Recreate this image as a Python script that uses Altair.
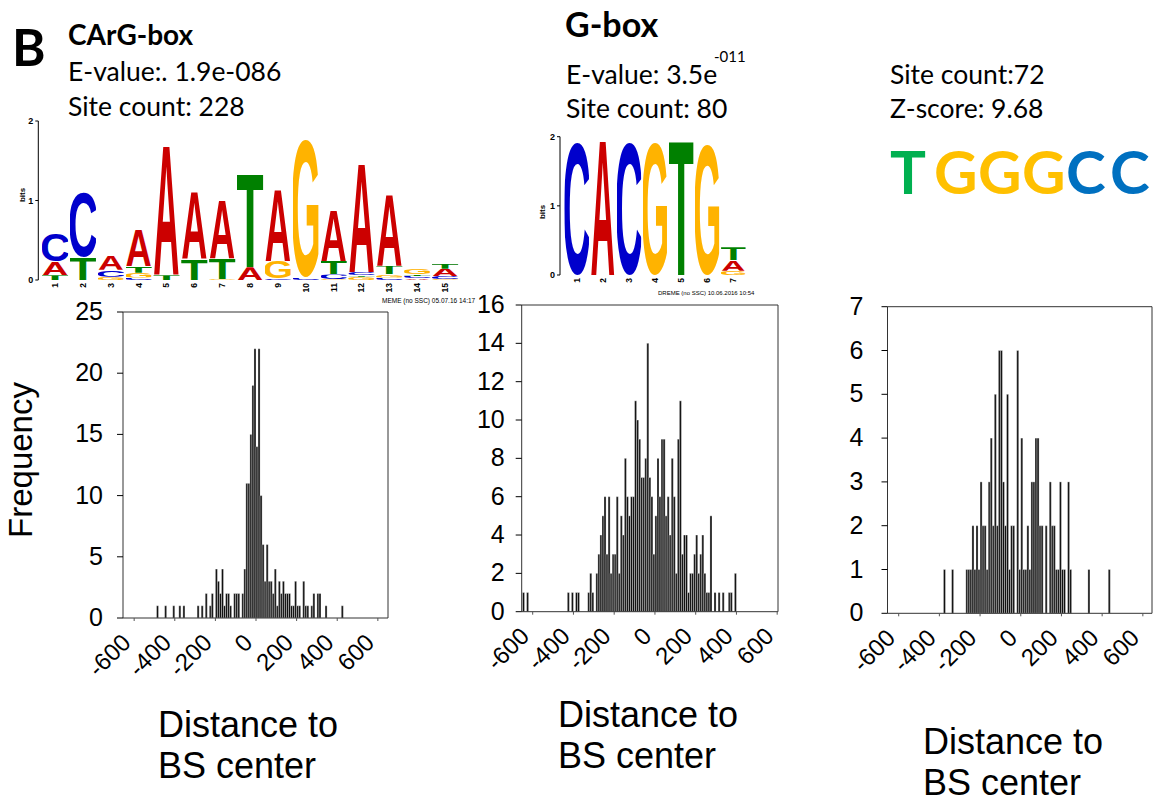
import urllib.parse

import altair as alt
import pandas as pd

W, H = 1153, 802
SANS = "Liberation Sans"
BODY = "Lato"

# ---------------------------------------------------------------------------
# Distance of motif sites to the binding-site centre, 10-bp bins:
# left edge of every non-empty bin and the number of sites in it.
# ---------------------------------------------------------------------------
carg_bin_start = [-490, -450, -410, -380, -360, -290, -270, -250, -230, -220,
                  -200, -190, -180, -170, -160, -150, -140, -130, -110, -100, -90,
                  -70, -60, -50, -40, -30, -20, -10, 0, 10,
                  20, 30, 40, 50, 60, 70, 80, 90, 100, 110, 120, 130, 140, 150, 160, 170, 180, 190,
                  200, 210, 230, 240, 250, 270, 280, 300, 310, 340, 420]
carg_freq = [1, 1, 1, 1, 1, 1, 1, 2, 1, 2,
             4, 3, 2, 4, 1, 2, 2, 1, 2, 2, 2,
             2, 4, 11, 11, 15, 19, 22, 14, 22,
             10, 6, 3, 6, 3, 3, 2, 4, 1, 3, 2, 3, 2, 2, 2, 1, 1, 3,
             1, 1, 3, 1, 1, 1, 2, 2, 2, 1, 1]

gbox_bin_start = [-650, -630, -430, -410, -390, -380, -330, -320, -310,
                  -290, -280, -270, -260, -250, -240, -230, -220, -210, -200, -190, -180,
                  -170, -160, -150, -140, -130, -120, -110, -100, -90, -80, -70, -60,
                  -50, -40, -30, -20, -10, 0, 10, 20, 30, 40,
                  50, 60, 70, 80, 90, 100, 110, 120, 130, 140, 150, 160, 170, 180, 190,
                  200, 210, 220, 230, 240, 250, 260, 270, 290, 310, 330, 360, 370, 390]
gbox_freq = [1, 1, 1, 1, 1, 1, 1, 2, 1,
             2, 3, 4, 5, 6, 3, 6, 2, 3, 3, 6, 2,
             5, 4, 8, 6, 5, 6, 6, 11, 10, 9, 7, 7,
             8, 14, 7, 6, 3, 5, 8, 6, 9, 9,
             5, 6, 4, 8, 6, 2, 9, 11, 3, 4, 4, 1, 2, 2, 3,
             4, 2, 3, 4, 2, 1, 1, 5, 1, 1, 1, 1, 1, 2]

tggg_bin_start = [-380, -340, -270, -260, -250, -240, -230, -220, -210, -200,
                  -190, -180, -170, -160, -150, -140, -130, -120, -110, -100,
                  -90, -80, -70, -60, -50, -40, -20, -10, 0, 10,
                  20, 30, 40, 50, 60, 70, 80, 90, 100, 120,
                  140, 150, 160, 170, 180, 190, 200, 210, 230, 240, 330, 430]
tggg_freq = [1, 1, 1, 1, 1, 2, 1, 2, 1, 3,
             2, 2, 1, 3, 4, 2, 5, 2, 6, 6,
             3, 2, 5, 1, 2, 2, 6, 1, 4, 1,
             1, 2, 1, 3, 3, 4, 4, 2, 2, 2,
             3, 2, 2, 1, 1, 3, 1, 1, 3, 1, 1, 1]

BIN_WIDTH = 10
x_ticks = [-600, -400, -200, 0, 200, 400, 600]

# ---------------------------------------------------------------------------
# Sequence logos: letters of every position from bottom to top, heights in bits
# ---------------------------------------------------------------------------
carg_logo_letters = ["TAC", "TC", "GCA", "CGTA", "TA", "TA", "GTA", "AT", "CGA", "CG",
                     "GCTA", "GTCA", "CGTA", "ACTG", "GCAT"]
carg_logo_bits = [[0.06, 0.17, 0.36], [0.29, 0.85], [0.04, 0.09, 0.19], [0.03, 0.06, 0.08, 0.46],
                  [0.06, 1.67], [0.27, 0.87], [0.01, 0.26, 0.75], [0.16, 1.21], [0.02, 0.22, 0.92],
                  [0.03, 1.80], [0.01, 0.06, 0.17, 0.65], [0.04, 0.02, 0.04, 1.41],
                  [0.03, 0.04, 0.11, 0.92], [0.02, 0.03, 0.02, 0.07], [0.01, 0.04, 0.09, 0.06]]
gbox_logo_letters = ["C", "A", "C", "G", "T", "G", "GAT"]
gbox_logo_bits = [[2.0], [2.0], [2.0], [1.99], [2.0], [1.98], [0.06, 0.15, 0.19]]

# consensus of the third motif, one colour per base
tggg_consensus = ["T", "G", "G", "G", "C", "C"]

BASE_COLORS = {"A": "#CC0000", "C": "#0000CC", "G": "#FFB300", "T": "#008000"}
CONSENSUS_COLORS = {"T": "#00B050", "G": "#FFC000", "C": "#0070C0"}
# ink box of each glyph at font-size 100: width, height above baseline, depth below
GLYPH_BOX = {"A": (72.2, 71.6, 0.0), "C": (62.8, 72.9, 1.3),
             "G": (67.1, 72.9, 1.3), "T": (56.9, 71.6, 0.0)}


def glyph_url(ch):
    """Stretchable SVG of one logo letter (fills its box in both directions)."""
    w, up, down = GLYPH_BOX[ch]
    svg = (
        f'<svg xmlns="http://www.w3.org/2000/svg" width="100" height="100" '
        f'viewBox="{-w / 2} {-up} {w} {up + down}" preserveAspectRatio="none">'
        f'<text x="0" y="0" text-anchor="middle" font-family="Liberation Sans, Arial, sans-serif" '
        f'font-weight="bold" font-size="100" fill="{BASE_COLORS[ch]}">{ch}</text></svg>'
    )
    return "data:image/svg+xml;charset=utf-8," + urllib.parse.quote(svg)


def note(text, x, y, size, font=BODY, weight="normal", color="black",
         align="left", baseline="alphabetic", angle=0):
    props = dict(font=font, fontSize=size, fontWeight=weight, color=color,
                 align=align, baseline=baseline)
    if angle:
        props["angle"] = angle
    return alt.Chart(pd.DataFrame({"t": [text]})).mark_text(**props).encode(
        x=alt.value(x), y=alt.value(y), text="t:N")


def hist_panel(starts, freqs, xdom, xrange_px, ydom, yrange_px, yticks, ylab_off):
    xs = alt.Scale(domain=xdom, range=xrange_px, nice=False, zero=False)
    ys = alt.Scale(domain=ydom, range=yrange_px, nice=False, zero=False)
    bars = pd.DataFrame({"start": starts,
                         "end": [s + BIN_WIDTH for s in starts],
                         "base": 0,
                         "freq": freqs})
    frame = pd.DataFrame({"x0": [xdom[0]], "x1": [xdom[1]], "y0": [ydom[0]], "y1": [ydom[1]]})
    yt = pd.DataFrame({"v": yticks, "x0": xdom[0], "lab": [str(v) for v in yticks]})
    xt = pd.DataFrame({"v": x_ticks, "y0": ydom[0], "lab": [str(v) for v in x_ticks]})

    X = lambda f: alt.X(f, scale=xs, axis=None)
    Y = lambda f: alt.Y(f, scale=ys, axis=None)

    return [
        alt.Chart(bars).mark_rect(fill="#111111", stroke="white", strokeWidth=0.35).encode(
            x=X("start:Q"), x2="end:Q", y=Y("base:Q"), y2="freq:Q"),
        alt.Chart(frame).mark_rect(fill="transparent", stroke="#333333", strokeWidth=1).encode(
            x=X("x0:Q"), x2="x1:Q", y=Y("y0:Q"), y2="y1:Q"),
        alt.Chart(yt).mark_rule(color="black", strokeWidth=1, xOffset=-6, x2Offset=0).encode(
            x=X("x0:Q"), x2="x0:Q", y=Y("v:Q")),
        alt.Chart(yt).mark_text(font=SANS, fontSize=25, align="right", baseline="middle",
                                xOffset=-ylab_off).encode(
            x=X("x0:Q"), y=Y("v:Q"), text="lab:N"),
        alt.Chart(xt).mark_rule(color="#555555", strokeWidth=1, y2Offset=3).encode(
            x=X("v:Q"), y=Y("y0:Q"), y2="y0:Q"),
        alt.Chart(xt).mark_text(font=SANS, fontSize=24, align="right", baseline="middle",
                                angle=315, xOffset=-7, yOffset=21).encode(
            x=X("v:Q"), y=Y("y0:Q"), text="lab:N"),
    ]


def logo_panel(letters, bits, xdom, xrange_px, yrange_px, bits_xy):
    xs = alt.Scale(domain=xdom, range=xrange_px, nice=False, zero=False)
    ys = alt.Scale(domain=[0, 2], range=yrange_px, nice=False, zero=False)
    rows = []
    for i, (stack, heights) in enumerate(zip(letters, bits), start=1):
        top = 0.0
        for ch, h in zip(stack, heights):
            rows.append({"pos": i, "left": i - 0.47, "right": i + 0.47,
                         "lo": top, "hi": top + h, "url": glyph_url(ch)})
            top += h
    glyphs = pd.DataFrame(rows)
    npos = len(letters)
    cols = pd.DataFrame({"pos": list(range(1, npos + 1)), "base": 0,
                         "lab": [str(i) for i in range(1, npos + 1)]})
    yt = pd.DataFrame({"v": [0, 1, 2], "x0": xdom[0], "lab": ["0", "1", "2"]})
    axis_line = pd.DataFrame({"x0": [xdom[0]], "y0": [0], "y1": [2]})

    X = lambda f: alt.X(f, scale=xs, axis=None)
    Y = lambda f: alt.Y(f, scale=ys, axis=None)
    return [
        alt.Chart(glyphs).mark_image(aspect=False).encode(
            x=X("left:Q"), x2="right:Q", y=Y("lo:Q"), y2="hi:Q", url="url:N"),
        alt.Chart(axis_line).mark_rule(color="black", strokeWidth=1).encode(
            x=X("x0:Q"), y=Y("y0:Q"), y2="y1:Q"),
        alt.Chart(yt).mark_rule(color="black", strokeWidth=1, xOffset=-3, x2Offset=0).encode(
            x=X("x0:Q"), x2="x0:Q", y=Y("v:Q")),
        alt.Chart(yt).mark_text(font=SANS, fontSize=9, fontWeight="bold", align="right",
                                baseline="middle", xOffset=-5).encode(
            x=X("x0:Q"), y=Y("v:Q"), text="lab:N"),
        alt.Chart(cols).mark_text(font=SANS, fontSize=8.5, fontWeight="bold", align="right",
                                  baseline="middle", angle=270, yOffset=3).encode(
            x=X("pos:Q"), y=Y("base:Q"), text="lab:N"),
        note("bits", bits_xy[0], bits_xy[1], 8, font=SANS, weight="bold",
             align="center", baseline="middle", angle=270),
    ]


layers = []

# histograms
layers += hist_panel(carg_bin_start, carg_freq, [-655, 650], [123, 388],
                     [0, 25], [618, 312], [0, 5, 10, 15, 20, 25], 20)
layers += hist_panel(gbox_bin_start, gbox_freq, [-654, 604], [521.7, 778],
                     [0, 16], [611.7, 305], list(range(0, 17, 2)), 17)
layers += hist_panel(tggg_bin_start, tggg_freq, [-655, 645], [887.5, 1152],
                     [0, 7], [613.3, 306.7], list(range(0, 8)), 24)

# sequence logos
layers += logo_panel(carg_logo_letters, carg_logo_bits, [0.4, 15.6], [38.3, 461.8],
                     [280, 121], (23, 195))
layers += logo_panel(gbox_logo_letters, gbox_logo_bits, [0.36, 7.6], [560, 749],
                     [275, 136.7], (543, 212))
layers += [
    note("MEME (no SSC) 05.07.16 14:17", 382, 301, 6.5, font=SANS, baseline="middle"),
    note("DREME (no SSC) 10.06.2016 10:54", 658, 293, 6, font=SANS, baseline="middle"),
]

# axis titles
layers.append(note("Frequency", 22, 460, 33, font=SANS, align="center",
                   baseline="middle", angle=270))
for x0, y0 in [(158, 737), (558, 727), (923, 754)]:
    layers.append(note("Distance to", x0, y0, 36, font=SANS))
    layers.append(note("BS center", x0, y0 + 41, 36, font=SANS))

# motif headings
layers += [
    note("B", 12, 66, 51, weight="bold"),
    note("CArG-box", 68, 45, 28, weight="bold"),
    note("E-value:. 1.9e-086", 68, 81, 26.5),
    note("Site count: 228", 68, 116, 26.5),
    note("G-box", 565, 37, 34, weight="bold"),
    note("E-value: 3.5e", 566, 84, 26.5),
    note("-011", 714, 62, 15),
    note("Site count: 80", 566, 118, 26.5),
    note("Site count:72", 890, 84, 26.5),
    note("Z-score: 9.68", 890, 118, 26.5),
]
for k, base in enumerate(tggg_consensus):
    layers.append(note(base, 890 + 44 * k, 194, 60, weight="bold",
                       color=CONSENSUS_COLORS[base]))

chart = (
    alt.layer(*layers)
    .resolve_scale(x="independent", y="independent")
    .properties(width=W, height=H, padding=0, autosize=alt.AutoSizeParams(type="none"))
    .configure(background="white")
    .configure_view(strokeWidth=0)
)

chart.save("out.html", embed_options={"renderer": "svg", "actions": False})
